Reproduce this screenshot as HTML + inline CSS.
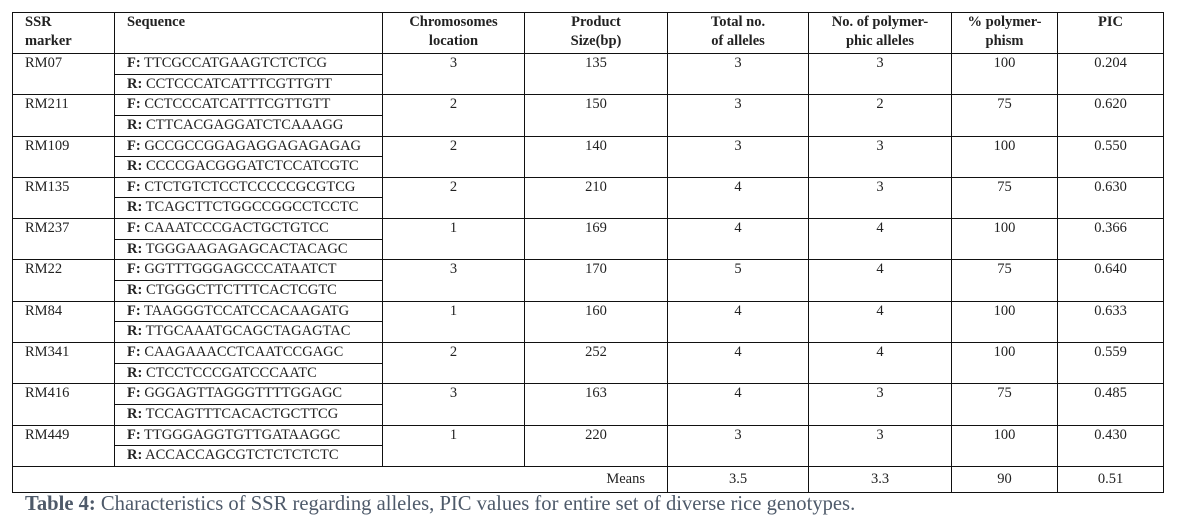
<!DOCTYPE html>
<html><head><meta charset="utf-8"><style>
body{margin:0;width:1181px;height:526px;background:#fff;overflow:hidden;font-family:"Liberation Serif",serif;color:#222}
table{position:absolute;left:12px;top:12px;border-collapse:collapse;table-layout:fixed;font-size:14.5px}
td,th{border:1px solid #111;padding:0;vertical-align:top;line-height:18px}
th{font-weight:bold;text-align:center;line-height:19px}
th.l{text-align:left;padding-left:12px}
tr.h{height:41px}
tr.r{height:20.65px}
td.m{padding-left:12px}
td.s{padding-left:12px}
td.c{text-align:center}
b{font-weight:bold}
.cap{position:absolute;left:25px;top:493px;font-size:20.6px;color:#4e5a6a;white-space:nowrap}
</style></head><body>
<table>
<colgroup><col style="width:102px"><col style="width:268px"><col style="width:142px"><col style="width:143px"><col style="width:141px"><col style="width:143px"><col style="width:106px"><col style="width:106px"></colgroup>
<tr class="h"><th class="l">SSR<br>marker</th><th class="l">Sequence</th><th>Chromosomes<br>location</th><th>Product<br>Size(bp)</th><th>Total no.<br>of alleles</th><th>No. of polymer-<br>phic alleles</th><th>% polymer-<br>phism</th><th>PIC</th></tr>
<tr class="r"><td class="m" rowspan="2">RM07</td><td class="s"><b>F:</b> TTCGCCATGAAGTCTCTCG</td><td class="c" rowspan="2">3</td><td class="c" rowspan="2">135</td><td class="c" rowspan="2">3</td><td class="c" rowspan="2">3</td><td class="c" rowspan="2">100</td><td class="c" rowspan="2">0.204</td></tr>
<tr class="r"><td class="s"><b>R:</b> CCTCCCATCATTTCGTTGTT</td></tr>
<tr class="r"><td class="m" rowspan="2">RM211</td><td class="s"><b>F:</b> CCTCCCATCATTTCGTTGTT</td><td class="c" rowspan="2">2</td><td class="c" rowspan="2">150</td><td class="c" rowspan="2">3</td><td class="c" rowspan="2">2</td><td class="c" rowspan="2">75</td><td class="c" rowspan="2">0.620</td></tr>
<tr class="r"><td class="s"><b>R:</b> CTTCACGAGGATCTCAAAGG</td></tr>
<tr class="r"><td class="m" rowspan="2">RM109</td><td class="s"><b>F:</b> GCCGCCGGAGAGGAGAGAGAG</td><td class="c" rowspan="2">2</td><td class="c" rowspan="2">140</td><td class="c" rowspan="2">3</td><td class="c" rowspan="2">3</td><td class="c" rowspan="2">100</td><td class="c" rowspan="2">0.550</td></tr>
<tr class="r"><td class="s"><b>R:</b> CCCCGACGGGATCTCCATCGTC</td></tr>
<tr class="r"><td class="m" rowspan="2">RM135</td><td class="s"><b>F:</b> CTCTGTCTCCTCCCCCGCGTCG</td><td class="c" rowspan="2">2</td><td class="c" rowspan="2">210</td><td class="c" rowspan="2">4</td><td class="c" rowspan="2">3</td><td class="c" rowspan="2">75</td><td class="c" rowspan="2">0.630</td></tr>
<tr class="r"><td class="s"><b>R:</b> TCAGCTTCTGGCCGGCCTCCTC</td></tr>
<tr class="r"><td class="m" rowspan="2">RM237</td><td class="s"><b>F:</b> CAAATCCCGACTGCTGTCC</td><td class="c" rowspan="2">1</td><td class="c" rowspan="2">169</td><td class="c" rowspan="2">4</td><td class="c" rowspan="2">4</td><td class="c" rowspan="2">100</td><td class="c" rowspan="2">0.366</td></tr>
<tr class="r"><td class="s"><b>R:</b> TGGGAAGAGAGCACTACAGC</td></tr>
<tr class="r"><td class="m" rowspan="2">RM22</td><td class="s"><b>F:</b> GGTTTGGGAGCCCATAATCT</td><td class="c" rowspan="2">3</td><td class="c" rowspan="2">170</td><td class="c" rowspan="2">5</td><td class="c" rowspan="2">4</td><td class="c" rowspan="2">75</td><td class="c" rowspan="2">0.640</td></tr>
<tr class="r"><td class="s"><b>R:</b> CTGGGCTTCTTTCACTCGTC</td></tr>
<tr class="r"><td class="m" rowspan="2">RM84</td><td class="s"><b>F:</b> TAAGGGTCCATCCACAAGATG</td><td class="c" rowspan="2">1</td><td class="c" rowspan="2">160</td><td class="c" rowspan="2">4</td><td class="c" rowspan="2">4</td><td class="c" rowspan="2">100</td><td class="c" rowspan="2">0.633</td></tr>
<tr class="r"><td class="s"><b>R:</b> TTGCAAATGCAGCTAGAGTAC</td></tr>
<tr class="r"><td class="m" rowspan="2">RM341</td><td class="s"><b>F:</b> CAAGAAACCTCAATCCGAGC</td><td class="c" rowspan="2">2</td><td class="c" rowspan="2">252</td><td class="c" rowspan="2">4</td><td class="c" rowspan="2">4</td><td class="c" rowspan="2">100</td><td class="c" rowspan="2">0.559</td></tr>
<tr class="r"><td class="s"><b>R:</b> CTCCTCCCGATCCCAATC</td></tr>
<tr class="r"><td class="m" rowspan="2">RM416</td><td class="s"><b>F:</b> GGGAGTTAGGGTTTTGGAGC</td><td class="c" rowspan="2">3</td><td class="c" rowspan="2">163</td><td class="c" rowspan="2">4</td><td class="c" rowspan="2">3</td><td class="c" rowspan="2">75</td><td class="c" rowspan="2">0.485</td></tr>
<tr class="r"><td class="s"><b>R:</b> TCCAGTTTCACACTGCTTCG</td></tr>
<tr class="r"><td class="m" rowspan="2">RM449</td><td class="s"><b>F:</b> TTGGGAGGTGTTGATAAGGC</td><td class="c" rowspan="2">1</td><td class="c" rowspan="2">220</td><td class="c" rowspan="2">3</td><td class="c" rowspan="2">3</td><td class="c" rowspan="2">100</td><td class="c" rowspan="2">0.430</td></tr>
<tr class="r"><td class="s"><b>R:</b> ACCACCAGCGTCTCTCTCTC</td></tr>
<tr style="height:26px"><td colspan="4" style="text-align:right;padding-right:22px;vertical-align:middle">Means</td><td class="c" style="vertical-align:middle">3.5</td><td class="c" style="vertical-align:middle">3.3</td><td class="c" style="vertical-align:middle">90</td><td class="c" style="vertical-align:middle">0.51</td></tr>
</table>
<div class="cap"><b>Table 4:</b> Characteristics of SSR regarding alleles, PIC values for entire set of diverse rice genotypes.</div>
</body></html>
